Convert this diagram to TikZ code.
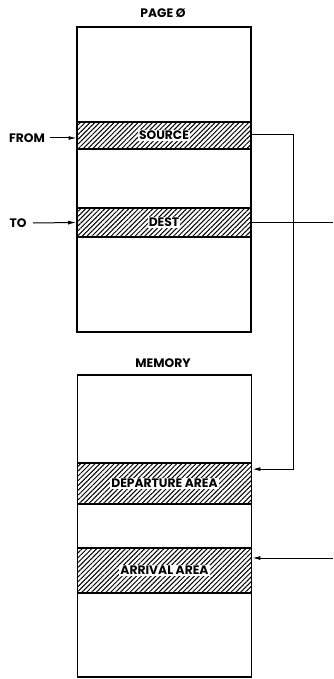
\documentclass[tikz,border=0pt]{standalone}
\usepackage{fontspec}
\setmainfont{Poppins}
\usetikzlibrary{arrows.meta,patterns.meta}
\begin{document}
\begin{tikzpicture}[x=1pt,y=-1pt,
  box/.style={draw,line width=1.8pt,minimum width=174pt,inner sep=0pt},
  band/.style={draw,line width=1.8pt,minimum width=174pt,inner sep=0pt,
    preaction={fill=white},
    pattern={Lines[angle=45,distance=3.4pt,line width=1pt]}},
  lbl/.style={fill=white,inner sep=1pt,font=\fontsize{12.3}{14}\selectfont\bfseries},
  ttl/.style={font=\fontsize{12.3}{14}\selectfont\bfseries},
  conn/.style={line width=1pt},
  arr/.style={line width=1pt,-{Latex[length=8pt,width=4pt]}}]
\useasboundingbox (0,0) rectangle (333,679);
% boxes
\node[box,minimum height=305pt] (page) at (164,179.5) {};
\node[box,minimum height=302pt] (memory) at (164.5,526) {};
\node[band,minimum height=27pt] (source) at (164,135.5) {};
\node[band,minimum height=29pt] (dest) at (164,222.5) {};
\node[band,minimum height=41pt] (departure) at (164.5,483.5) {};
\node[band,minimum height=45pt] (arrival) at (164.5,570.5) {};
% labels
\node[lbl] (lsource) at (source.center) {SOURCE};
\node[lbl] (ldest) at (dest.center) {DEST};
\node[lbl] (ldep) at (departure.center) {DEPARTURE AREA};
\node[lbl] (larr) at (arrival.center) {ARRIVAL AREA};
\node[ttl] (tpage) at (163,13) {PAGE Ø};
\node[ttl] (tmem) at (163,363) {MEMORY};
\node[ttl] (from) at (27,138) {FROM};
\node[ttl] (to) at (18,223) {TO};
% connectors
\draw[arr] ([xshift=2pt]from.east) -- ([yshift=-2.5pt]source.west);
\draw[arr] ([xshift=3pt]to.east) -- (dest.west);
\coordinate (dout) at (333,222.5);
\draw[conn] (dest.east) -- (dout);
\coordinate (ain) at (333,558);
\draw[arr] (ain) -- (ain -| arrival.east);
\draw[arr] ([yshift=0.5pt]source.east) -- ++(42,0) |- ([yshift=-7pt]departure.north east);
\end{tikzpicture}
\end{document}
